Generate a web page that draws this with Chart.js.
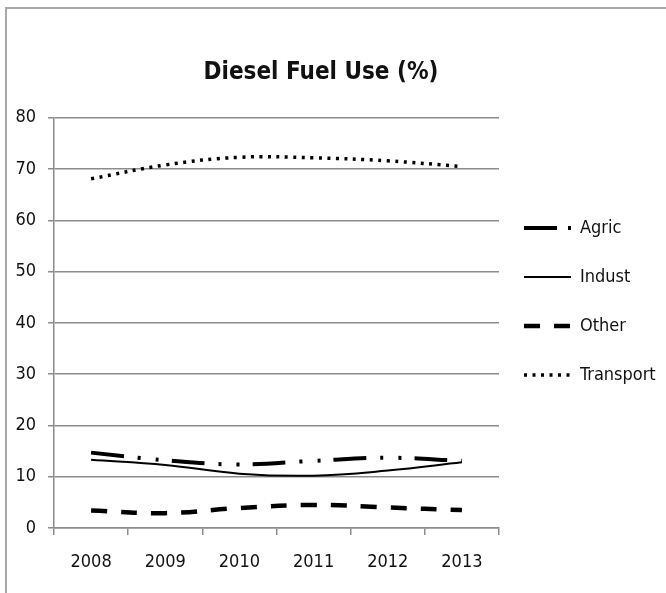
<!DOCTYPE html>
<html>
<head>
<meta charset="utf-8">
<script src="https://cdn.jsdelivr.net/npm/chart.js@4/dist/chart.umd.min.js"></script>
<style>
  html, body { margin: 0; padding: 0; background: #fff; }
  #wrap { width: 666px; height: 593px; position: relative; }
</style>
</head>
<body>
<div id="wrap"><canvas id="myChart" width="666" height="593"></canvas></div>
<script>
// values
let years = ['2008', '2009', '2010', '2011', '2012', '2013'];
let agric = [14.7, 13.2, 12.4, 13.1, 13.7, 13.1];
let indust = [13.3, 12.3, 10.6, 10.2, 11.2, 12.8];
let other = [3.4, 2.9, 3.9, 4.5, 4.0, 3.5];
let transport = [68.1, 70.8, 72.3, 72.2, 71.6, 70.5];
let yTicks = [0, 10, 20, 30, 40, 50, 60, 70, 80];

let fontFamily = "'DejaVu Sans Condensed', 'Liberation Sans', sans-serif";
let textColor = '#111';
let gridColor = '#8c8c8c';

// grey frame round the chart (only left and top edges show)
const framePlugin = {
    id: 'frame',
    beforeDraw(chart) {
        let c = chart.ctx;
        c.save();
        c.fillStyle = '#fff';
        c.fillRect(0, 0, chart.width, chart.height);
        c.strokeStyle = '#a8a8a8';
        c.lineWidth = 2;
        c.beginPath();
        c.moveTo(6, chart.height);
        c.lineTo(6, 8);
        c.lineTo(chart.width, 8);
        c.stroke();
        c.restore();
    }
};

// put the legend where the original has it
const legendPlace = {
    id: 'legendPlace',
    afterLayout(chart) {
        let lg = chart.legend;
        lg.left = 493;
        lg.right = chart.width;
        lg.width = lg.right - lg.left;
        lg.top = 188;
    }
};

function makeLine(label, data, width, dash) {
    return {
        label: label,
        data: data,
        borderColor: '#000',
        backgroundColor: '#000',
        borderWidth: width,
        borderDash: dash,
        borderCapStyle: 'butt',
        pointRadius: 0,
        pointHoverRadius: 0,
        tension: 0.4,
        fill: false
    };
}

let ctx = document.getElementById('myChart').getContext('2d');
let myChart = new Chart(ctx, {
    type: 'line',
    data: {
        labels: years,
        datasets: [
            makeLine('Agric', agric, 4, [33, 14, 3, 15, 3, 13]),
            makeLine('Indust', indust, 2, []),
            makeLine('Other', other, 4.5, [16, 14]),
            makeLine('Transport', transport, 3.5, [3, 5.5])
        ]
    },
    options: {
        responsive: false,
        animation: false,
        layout: { padding: { left: 6, right: 30, top: 0, bottom: 0 } },
        scales: {
            x: {
                offset: true,
                grid: { offset: true, drawOnChartArea: false, drawTicks: true, tickLength: 7, color: gridColor, lineWidth: 1.5 },
                border: { display: true, color: gridColor, width: 1.5 },
                ticks: { color: textColor, padding: 17, font: { family: fontFamily, size: 18 } },
                afterFit: s => { s.height = 65; }
            },
            y: {
                min: 0,
                max: 80,
                afterBuildTicks: s => { s.ticks = yTicks.map(v => ({ value: v })); },
                grid: { color: gridColor, lineWidth: 1.5, tickLength: 6 },
                border: { display: true, color: gridColor, width: 1.5 },
                ticks: { color: textColor, padding: 12, font: { family: fontFamily, size: 18 } },
                afterFit: s => { s.width = 48; }
            }
        },
        plugins: {
            title: {
                display: true,
                text: 'Diesel Fuel Use (%)',
                color: textColor,
                font: { family: fontFamily, size: 24, weight: 'bold' },
                padding: { top: 58, bottom: 31 }
            },
            legend: {
                position: 'right',
                align: 'start',
                maxWidth: 137,
                labels: {
                    usePointStyle: true,
                    pointStyle: 'line',
                    pointStyleWidth: 47,
                    padding: 31,
                    color: textColor,
                    font: { family: fontFamily, size: 18 },
                    generateLabels: chart => {
                        let items = Chart.defaults.plugins.legend.labels.generateLabels(chart);
                        items.forEach((it, i) => {
                            let ds = chart.data.datasets[i];
                            it.lineDash = ds.borderDash;
                            it.lineWidth = ds.borderWidth;
                            it.lineCap = 'butt';
                            it.lineDashOffset = 0;
                        });
                        // short sample: long dash then one dot, as in the original
                        items[0].lineDash = [33, 11, 3, 20];
                        return items;
                    }
                }
            },
            tooltip: { enabled: false }
        }
    },
    plugins: [framePlugin, legendPlace]
});
</script>
</body>
</html>
